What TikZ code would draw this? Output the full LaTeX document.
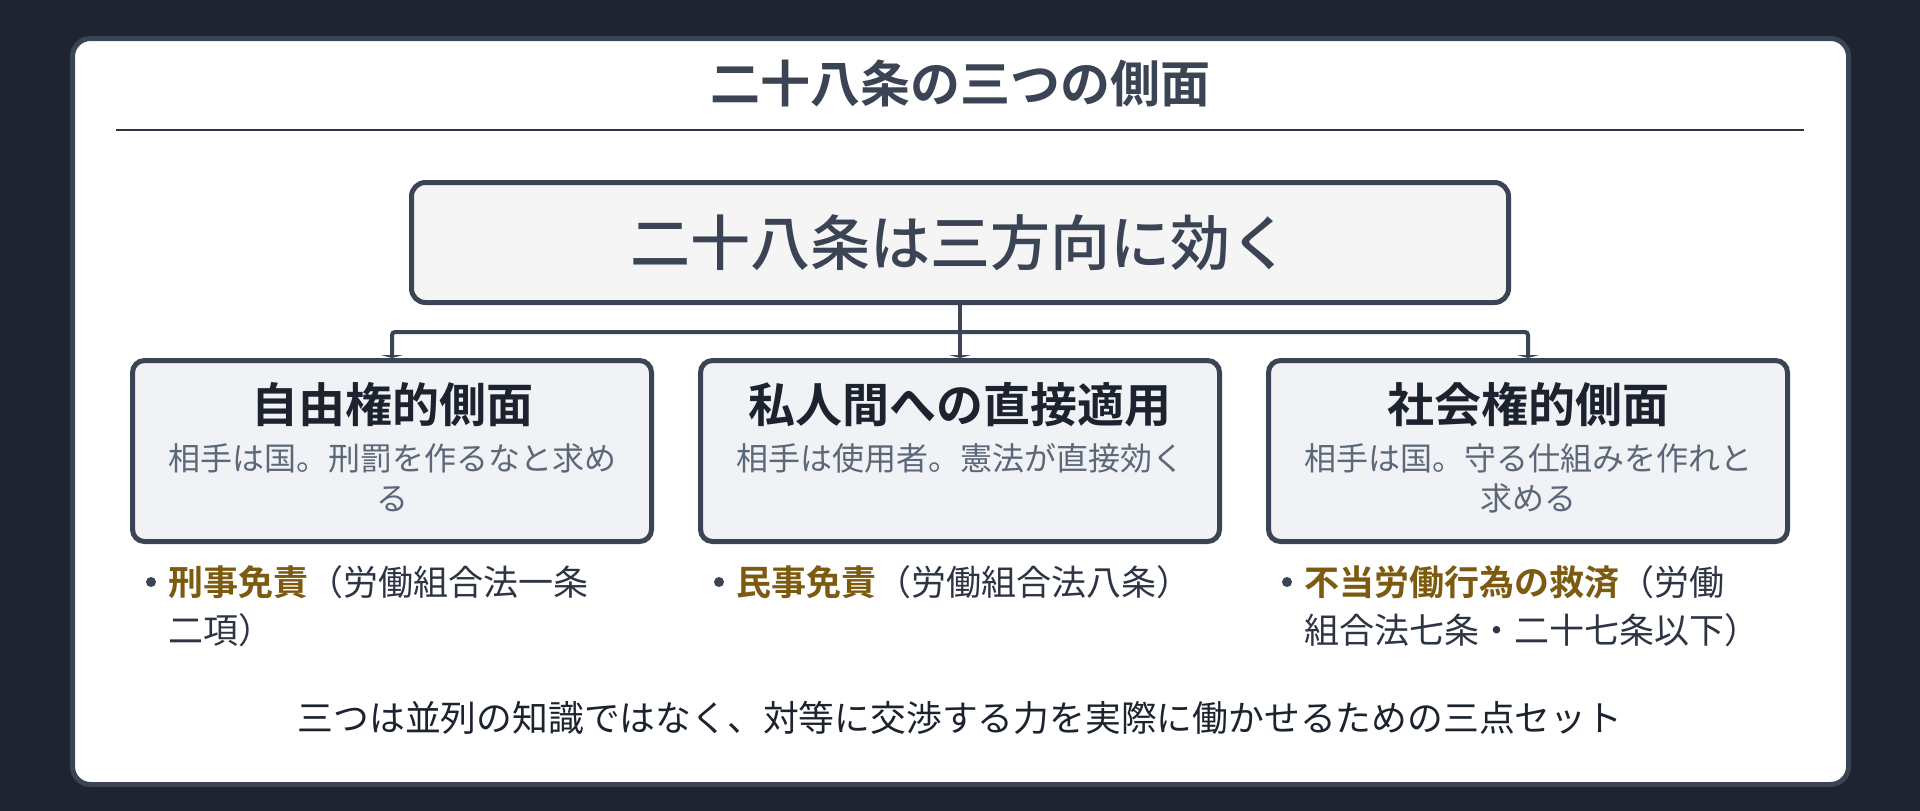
\documentclass[tikz,border=0pt]{standalone}
\usepackage{fontspec}
\setmainfont{Noto Sans CJK JP}[BoldFont={Noto Sans CJK JP Bold}]
\newfontfamily\mediumface{Noto Sans CJK JP Medium}
\usepackage{tikz}
\usetikzlibrary{backgrounds, arrows.meta}
\definecolor{night}{RGB}{30, 37, 48}
\definecolor{slate}{RGB}{58, 68, 84}
\definecolor{paper}{RGB}{245, 245, 245}
\definecolor{mist}{RGB}{240, 242, 246}
\definecolor{ink}{RGB}{28, 34, 46}
\definecolor{fog}{RGB}{92, 104, 120}
\definecolor{ochre}{RGB}{124, 90, 16}
\definecolor{body}{RGB}{45, 53, 69}

\begin{document}
\begin{tikzpicture}[x=1pt, y=-1pt,
    panel/.style={draw=slate, fill=mist, line width=5pt, rounded corners=12pt,
                  minimum width=519pt, minimum height=181pt, inner sep=0pt},
    head/.style={font=\fontsize{47}{56}\selectfont\bfseries, text=ink, inner sep=0pt},
    sub/.style={font=\fontsize{32}{40}\selectfont, text=fog, align=center, inner sep=0pt},
    item/.style={font=\fontsize{35}{48}\selectfont, text=body, align=left,
                 inner sep=0pt, anchor=west},
    link/.style={draw=slate, line width=4pt, rounded corners=3pt,
                 -{Triangle[length=3pt, width=22pt]}}]
  \useasboundingbox (0, 0) rectangle (1920, 811);

  \begin{scope}[on background layer]
    \fill[night] (0, 0) rectangle (1920, 811);
    \filldraw[fill=white, draw=slate, line width=5pt, rounded corners=18pt]
      (72.5, 38.5) rectangle (1848.5, 784.5);
  \end{scope}

  \node[font=\fontsize{50}{60}\selectfont\bfseries, text=slate, inner sep=0pt]
    (title) at (960, 83) {二十八条の三つの側面};
  \draw[body, line width=2.7pt] (116, 130) -- (1804, 130);

  \node[draw=slate, fill=paper, line width=5pt, rounded corners=14pt,
        minimum width=1097pt, minimum height=120pt, inner sep=0pt,
        font=\fontsize{60}{72}\selectfont\mediumface, text=slate]
    (core) at (960, 242.5) {二十八条は三方向に効く};

  \begin{scope}[shift={(392, 0)}]
    \node[panel] (boxL) at (0, 451) {};
    \node[head] (headL) at (0, 405) {自由権的側面};
    \node[sub] (subL) at (0, 478) {相手は国。刑罰を作るなと求め\\る};
    \fill[slate] (-241, 582) circle (5pt);
    \node[item] (itemL) at (-224, 606)
      {{\bfseries\color{ochre}刑事免責}（労働組合法一条\\二項）};
  \end{scope}

  \begin{scope}[shift={(960, 0)}]
    \node[panel] (boxM) at (0, 451) {};
    \node[head] (headM) at (0, 405) {私人間への直接適用};
    \node[sub] (subM) at (0, 458) {相手は使用者。憲法が直接効く};
    \fill[slate] (-241, 582) circle (5pt);
    \node[item] (itemM) at (-224, 582)
      {{\bfseries\color{ochre}民事免責}（労働組合法八条）};
  \end{scope}

  \begin{scope}[shift={(1528, 0)}]
    \node[panel] (boxR) at (0, 451) {};
    \node[head] (headR) at (0, 405) {社会権的側面};
    \node[sub] (subR) at (0, 478) {相手は国。守る仕組みを作れと\\求める};
    \fill[slate] (-241, 582) circle (5pt);
    \node[item] (itemR) at (-224, 606)
      {{\bfseries\color{ochre}不当労働行為の救済}（労働\\組合法七条・二十七条以下）};
  \end{scope}

  \node[font=\fontsize{35.8}{44}\selectfont, text=ink, inner sep=0pt]
    (note) at (960, 718)
    {三つは並列の知識ではなく、対等に交渉する力を実際に働かせるための三点セット};

  % connectors sit under the boxes
  \begin{scope}[on background layer]
    \coordinate (hub) at (960, 332);
    \draw[slate, line width=4pt] (core.south) -- (hub);
    \draw[link] (hub) -- (boxM.north);
    \foreach \b in {boxL, boxR}
      \draw[link] (hub) -| (\b.north);
  \end{scope}

\end{tikzpicture}
\end{document}
